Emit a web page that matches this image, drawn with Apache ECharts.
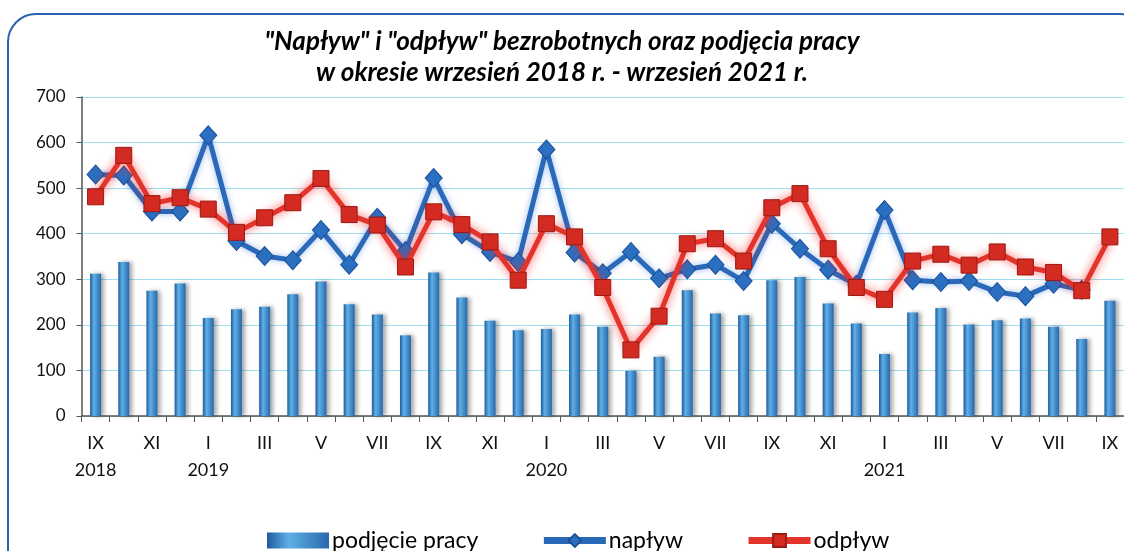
<!DOCTYPE html>
<html>
<head>
<meta charset="utf-8">
<script src="https://cdn.jsdelivr.net/npm/echarts@6/dist/echarts.min.js"></script>
<style>
html,body{margin:0;padding:0;background:#fff;}
#c{width:1124px;height:551px;}
</style>
</head>
<body>
<div id="c"></div>
<script>
const categories = [
  'IX\n2018','X','XI','XII','I\n2019','II','III','IV','V','VI','VII','VIII',
  'IX','X','XI','XII','I\n2020','II','III','IV','V','VI','VII','VIII',
  'IX','X','XI','XII','I\n2021','II','III','IV','V','VI','VII','VIII','IX'
];
const podjeciePracy = [312,338,275,291,215,234,240,267,295,245,223,177,
  315,260,209,188,191,223,196,99,130,276,225,221,
  298,305,247,203,136,227,237,201,210,214,196,169,253];
const naplyw = [530,528,449,449,616,384,351,342,408,332,435,362,
  522,399,360,338,585,359,313,360,302,322,332,296,
  422,367,321,288,452,298,294,296,272,263,290,277,null];
const odplyw = [481,572,466,479,454,403,435,468,521,442,419,327,
  448,420,382,298,422,393,282,145,219,378,389,340,
  457,488,367,282,256,340,355,331,360,327,315,275,393];
const titleLines = ['"Napływ" i "odpływ" bezrobotnych oraz podjęcia pracy', 'w okresie wrzesień 2018 r. - wrzesień 2021 r.'];

const chart = echarts.init(document.getElementById('c'));
const font = 'Lato';
chart.setOption({
  backgroundColor: '#ffffff',
  animation: false,
  graphic: [{
    type: 'rect', silent: true, z: -1,
    shape: {x: 8, y: 14, width: 1140, height: 580, r: 28},
    style: {fill: 'none', stroke: '#2c63b0', lineWidth: 2}
  }],
  title: {
    text: titleLines.join('\n'),
    left: 'center', top: 21,
    textStyle: {fontFamily: font, fontSize: 26, fontWeight: 'bold', fontStyle: 'italic', color: '#000', lineHeight: 31}
  },
  legend: {
    left: 262, top: 524, itemGap: 62, itemWidth: 62, itemHeight: 16,
    textStyle: {fontFamily: font, fontSize: 23, color: '#000', padding: [0, 0, 0, -2]},
    data: [
      {name: 'podjęcie pracy', icon: 'rect'},
      {name: 'napływ', lineStyle: {width: 7}},
      {name: 'odpływ', lineStyle: {width: 7}}
    ]
  },
  grid: {left: 81.5, right: -6, top: 97, bottom: 135, containLabel: false},
  xAxis: {
    type: 'category', data: categories, boundaryGap: true,
    axisLine: {lineStyle: {color: '#555', width: 1.5}},
    axisTick: {show: true, interval: 0, alignWithLabel: false, length: 6, lineStyle: {color: '#555'}},
    axisLabel: {interval: 1, margin: 14, fontFamily: font, fontSize: 18, color: '#111', lineHeight: 27}
  },
  yAxis: {
    type: 'value', min: 0, max: 700, interval: 100,
    axisLine: {show: true, lineStyle: {color: '#555', width: 1.5}},
    axisTick: {show: true, length: 5, lineStyle: {color: '#555'}},
    axisLabel: {margin: 16, fontFamily: font, fontSize: 17, color: '#111'},
    splitLine: {lineStyle: {color: '#9fe0f2', width: 1}}
  },
  series: [
    {
      name: 'podjęcie pracy', type: 'bar', data: podjeciePracy, barWidth: 11, z: 2,
      itemStyle: {
        color: new echarts.graphic.LinearGradient(0, 0, 1, 0, [
          {offset: 0, color: '#1d5b9c'}, {offset: 0.35, color: '#5fb0e6'}, {offset: 1, color: '#2868ac'}
        ]),
        shadowColor: 'rgba(0,0,0,0.35)', shadowBlur: 4, shadowOffsetX: 3, shadowOffsetY: 0
      }
    },
    {
      name: 'napływ', type: 'line', data: naplyw, z: 3, showAllSymbol: true,
      symbol: 'diamond', symbolSize: [17, 19],
      lineStyle: {color: '#2a68b8', width: 5, shadowColor: 'rgba(60,120,220,0.5)', shadowBlur: 6},
      itemStyle: {color: '#2a6fc0', borderColor: '#1c4f95', borderWidth: 1}
    },
    {
      name: 'odpływ', type: 'line', data: odplyw, z: 4, showAllSymbol: true,
      symbol: 'rect', symbolSize: 16,
      lineStyle: {color: '#e3342b', width: 5, shadowColor: 'rgba(255,30,30,0.75)', shadowBlur: 10},
      itemStyle: {color: '#d32a22', borderColor: '#9a1a14', borderWidth: 1}
    }
  ]
});
</script>
</body>
</html>
